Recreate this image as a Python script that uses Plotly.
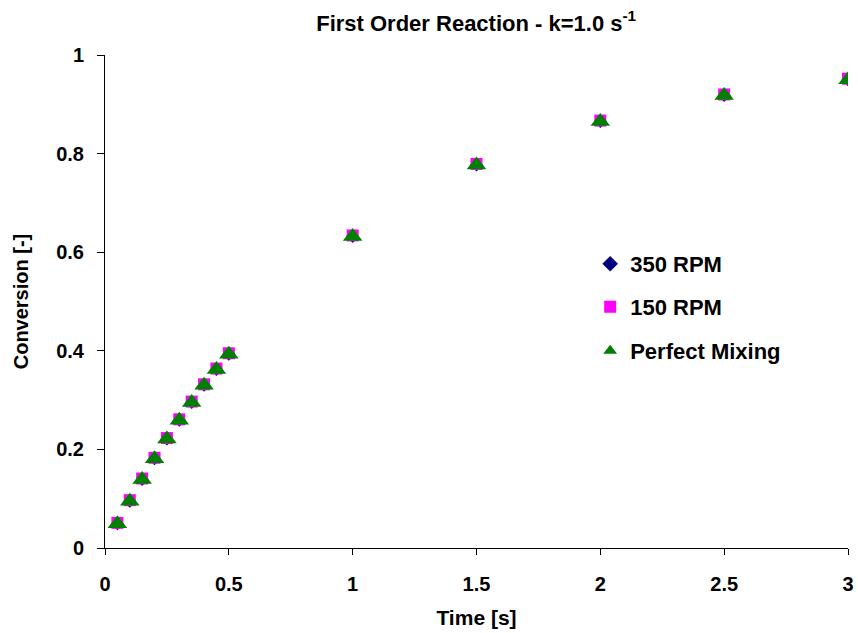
import plotly.graph_objects as go

time_s = [0.05, 0.1, 0.15, 0.2, 0.25, 0.3, 0.35, 0.4, 0.45, 0.5, 1.0, 1.5, 2.0, 2.5, 3.0]
conv_350 = [0.049, 0.095, 0.139, 0.181, 0.221, 0.259, 0.295, 0.330, 0.362, 0.393, 0.632, 0.777, 0.865, 0.918, 0.950]
conv_150 = [0.051, 0.097, 0.141, 0.183, 0.223, 0.261, 0.297, 0.332, 0.364, 0.395, 0.634, 0.779, 0.867, 0.920, 0.952]
conv_perfect = [0.049, 0.095, 0.139, 0.181, 0.221, 0.259, 0.295, 0.330, 0.362, 0.393, 0.632, 0.777, 0.865, 0.918, 0.950]

FONT = "Liberation Sans, Arial, sans-serif"

fig = go.Figure()
fig.add_trace(go.Scatter(x=time_s, y=conv_350, mode="markers", name="<b>350 RPM</b>",
                         marker=dict(symbol="diamond", size=10, color="#000080"),
                         legend="legend"))
fig.add_trace(go.Scatter(x=time_s, y=conv_150, mode="markers", name="<b>150 RPM</b>",
                         marker=dict(symbol="square", size=12, color="#FF00FF"),
                         legend="legend2"))
fig.add_trace(go.Scatter(x=time_s, y=conv_perfect, mode="markers", name="<b>Perfect Mixing</b>",
                         marker=dict(symbol="triangle-up", size=17, color="#008000"),
                         legend="legend3"))

leg_common = dict(x=0.653, xanchor="left", yanchor="middle", bgcolor="rgba(0,0,0,0)",
                  font=dict(family=FONT, size=22, color="black"), itemsizing="constant")

fig.update_layout(
    width=858, height=633,
    margin=dict(l=105, r=10, t=55, b=85),
    paper_bgcolor="white", plot_bgcolor="white",
    title=dict(text="<b>First Order Reaction - k=1.0 s<sup>-1</sup></b>", x=0.555, xanchor="center",
               y=1 - 23 / 633, yanchor="middle", font=dict(family=FONT, size=22, color="black")),
    showlegend=True,
    legend=dict(y=(548 - 264) / 493, **leg_common),
    legend2=dict(y=(548 - 307) / 493, **leg_common),
    legend3=dict(y=(548 - 351) / 493, **leg_common),
    xaxis=dict(range=[0, 3], tickvals=[0, 0.5, 1, 1.5, 2, 2.5, 3],
               ticktext=["<b>0</b>", "<b>0.5</b>", "<b>1</b>", "<b>1.5</b>", "<b>2</b>", "<b>2.5</b>", "<b>3</b>"],
               showgrid=False, zeroline=False, showline=True, linecolor="black", linewidth=1,
               ticks="outside", ticklen=6, tickcolor="black", automargin=False,
               ticklabelstandoff=12,
               tickfont=dict(family=FONT, size=20, color="black"),
               title=dict(text="<b>Time [s]</b>", font=dict(family=FONT, size=21, color="black"), standoff=16)),
    yaxis=dict(range=[0, 1], tickvals=[0, 0.2, 0.4, 0.6, 0.8, 1],
               ticktext=["<b>0</b>", "<b>0.2</b>", "<b>0.4</b>", "<b>0.6</b>", "<b>0.8</b>", "<b>1</b>"],
               showgrid=False, zeroline=False, showline=True, linecolor="black", linewidth=1,
               ticks="outside", ticklen=7, tickcolor="black", automargin=False,
               ticklabelstandoff=9,
               tickfont=dict(family=FONT, size=20, color="black"),
               title=dict(text="<b>Conversion [-]</b>", font=dict(family=FONT, size=20, color="black"), standoff=22)),
)

fig.write_html("out.html")
